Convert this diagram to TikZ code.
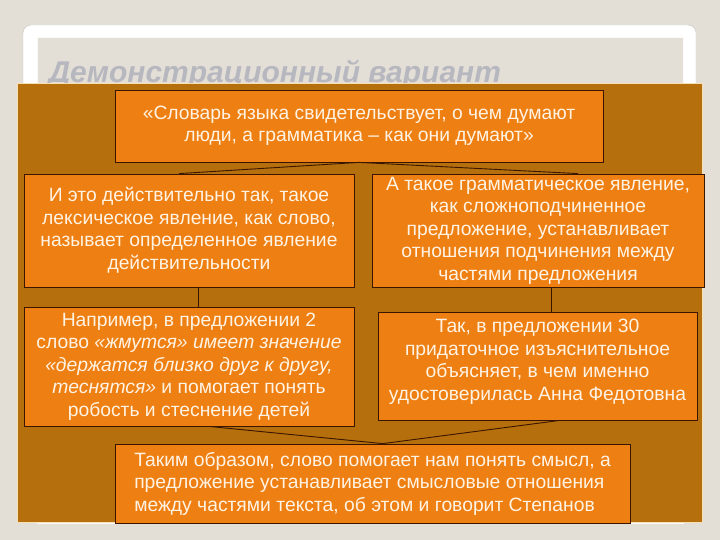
\documentclass[tikz,border=0pt]{standalone}
\usepackage{fontspec}
\setmainfont{Liberation Sans}
\usetikzlibrary{calc}
\definecolor{pagebg}{HTML}{E3DFD7}
\definecolor{framegray}{HTML}{C9C7C2}
\definecolor{titlegray}{HTML}{B7B7BF}
\definecolor{panelbrown}{HTML}{B56F0C}
\definecolor{panelrim}{HTML}{F7E0B6}
\definecolor{cardfill}{HTML}{EE7F12}
\definecolor{cardline}{HTML}{3A1500}
\definecolor{cardtext}{HTML}{FFF3E4}
\newcommand{\boxfontsize}{\fontsize{19.3}{22.5}\selectfont}
\tikzset{
	card/.style={draw=cardline, fill=cardfill, text=cardtext, line width=0.8pt,
		inner sep=0pt, align=center, font=\boxfontsize},
	link/.style={draw=cardline, line width=0.9pt}
}

\begin{document}
\begin{tikzpicture}[x=1pt,y=-1pt]
	\useasboundingbox (0,0) rectangle (720,540);
	\fill[pagebg] (0,0) rectangle (720,540);
	\filldraw[fill=white, draw=framegray, rounded corners=8pt] (23,25) rectangle (696,523);
	\filldraw[fill=pagebg, draw=white!85!pagebg] (37,37) rectangle (683,523);
	\node[anchor=base west, text=titlegray, font=\fontsize{30}{30}\selectfont\bfseries\itshape] (title) at (45,83) {Демонстрационный вариант};
	\filldraw[fill=panelbrown, draw=panelrim, line width=0.8pt] (17,83) rectangle (702,522);

	\node[card, minimum width=488pt, minimum height=72pt] (quote) at (359,126)
		{«Словарь языка свидетельствует, о чем думают\\люди, а грамматика – как они думают»};
	\node[card, minimum width=330pt, minimum height=113pt] (lex) at (189,230.5)
		{И это действительно так, такое\\лексическое явление, как слово,\\называет определенное явление\\действительности};
	\node[card, minimum width=332pt, minimum height=113pt] (gram) at (538,230.5)
		{А такое грамматическое явление,\\как сложноподчиненное\\предложение, устанавливает\\отношения подчинения между\\частями предложения};
	\node[card, minimum width=330pt, minimum height=119pt] (ex1) at (189,366.5)
		{Например, в предложении 2\\слово \textit{«жмутся» имеет значение}\\\textit{«держатся близко друг к другу,}\\\textit{теснятся»} и помогает понять\\робость и стеснение детей};
	\node[card, minimum width=319pt, minimum height=108pt] (ex2) at (537.5,366)
		{Так, в предложении 30\\придаточное изъяснительное\\объясняет, в чем именно\\удостоверилась Анна Федотовна\\[-10pt]\mbox{}};
	\node[card, align=left, minimum width=515pt, minimum height=79pt] (concl) at (372.5,483.5)
		{Таким образом, слово помогает нам понять смысл, а\\предложение устанавливает смысловые отношения\\между частями текста, об этом и говорит Степанов};

	\draw[link] ($(lex.north west)!0.47!(lex.north east)$) -- (quote.south) -- ($(gram.north west)!0.62!(gram.north east)$);
	\draw[link] ($(lex.south west)!0.53!(lex.south east)$) coordinate (lexfoot) -- (lexfoot |- ex1.north);
	\draw[link] ($(gram.south west)!0.54!(gram.south east)$) coordinate (gramfoot) -- (gramfoot |- ex2.north);
	\draw[link] ($(ex1.south west)!0.56!(ex1.south east)$) -- ($(concl.north west)!0.52!(concl.north east)$) -- ($(ex2.south west)!0.57!(ex2.south east)$);
\end{tikzpicture}
\end{document}
